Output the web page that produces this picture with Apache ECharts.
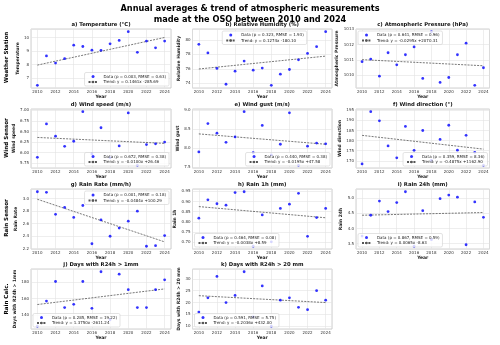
<!DOCTYPE html>
<html>
<head>
<meta charset="utf-8">
<script src="https://cdn.jsdelivr.net/npm/echarts@6/dist/echarts.min.js"></script>
<style>
html, body { margin: 0; padding: 0; background: #fff; }
#chart { width: 500px; height: 345px; }
</style>
</head>
<body>
<div id="chart"></div>
<script>
// yearly values
var years = [2010, 2011, 2012, 2013, 2014, 2015, 2016, 2017, 2018, 2019, 2020, 2021, 2022, 2023, 2024];
var temperature = [6.47, 8.65, 8.12, 8.45, 9.45, 9.35, 9.08, 9.07, 9.55, 9.80, 10.45, 8.92, 9.75, 9.25, 9.75];
var humidity = [79.4, 78.2, 76.05, 73.85, 75.67, 77.07, 75.8, 76.1, 73.7, 75.25, 75.9, 77.25, 78.14, 79.07, 81.16];
var pressure = [1010.89, 1011.06, 1009.94, 1011.47, 1010.68, 1011.34, 1011.85, 1009.79, 1012.85, 1009.53, 1009.85, 1011.34, 1012.10, 1009.34, 1010.49];
var windSpeed = [5.89, 6.68, 6.39, 6.15, 6.27, 6.97, 5.97, 6.59, 5.88, 6.16, 6.94, 5.70, 6.19, 6.21, 6.25];
var windGust = [7.90, 8.64, 8.39, 8.15, 8.29, 8.95, 7.88, 8.59, 7.82, 8.10, 8.92, 7.55, 8.05, 8.13, 8.11];
var windDir = [168.5, 194.3, 189.8, 177.4, 171.5, 187.0, 175.2, 185.0, 170.2, 180.6, 187.6, 175.3, 182.6, 174.2, 167.8];
var rainRate = [3.11, 3.10, 2.75, 2.86, 2.70, 2.89, 2.28, 2.66, 2.40, 2.53, 2.64, 2.80, 2.24, 2.25, 2.41];
var rain1h = [0.818, 0.908, 0.889, 0.882, 0.944, 0.948, 0.680, 0.834, 0.702, 0.866, 0.887, 0.940, 0.729, 0.821, 0.866];
var rain24h = [3.75, 4.44, 4.91, 4.56, 4.86, 5.22, 3.41, 4.59, 3.63, 4.99, 5.11, 5.04, 3.46, 4.88, 4.37];
var days1mm = [126, 157, 181, 149, 153, 181, 148, 193, 134, 190, 171, 149, 149, 171, 183];
var days20mm = [16, 22, 31, 20, 23, 33, 14, 27, 10, 21, 22, 18, 17, 25, 21];

// trend line values at 2010 and 2024
var trendStart = [7.97, 75.97, 1011.02, 6.36, 8.37, 182.6, 2.99, 0.875, 4.44, 152.7, 22.9];
var trendEnd = [10.02, 77.76, 1010.62, 6.22, 8.10, 175.8, 2.31, 0.820, 4.53, 171.9, 20.0];

var panelTitles = ['a) Temperature (°C)', 'b) Relative Humidity (%)', 'c) Atmospheric Pressure (hPa)',
  'd) Wind speed (m/s)', 'e) Wind gust (m/s)', 'f) Wind direction (°)',
  'g) Rain Rate (mm/h)', 'h) Rain 1h (mm)', 'i) Rain 24h (mm)',
  'j) Days with R24h > 1mm', 'k) Days with R24h > 20 mm'];
var yNames = ['Temperature', 'Relative Humidity', 'Atmospheric Pressure', 'Wind speed', 'Wind gust',
  'Wind direction', 'Rain Rate', 'Rain 1h', 'Rain 24h', 'Days with R24h > 1mm', 'Days with R24h > 20 mm'];
var dataLabels = ['Data (p = 0.003, RMSE = 0.63)', 'Data (p = 0.323, RMSE = 1.93)', 'Data (p = 0.641, RMSE = 0.96)',
  'Data (p = 0.672, RMSE = 0.38)', 'Data (p = 0.440, RMSE = 0.38)', 'Data (p = 0.359, RMSE = 8.36)',
  'Data (p = 0.001, RMSE = 0.18)', 'Data (p = 0.464, RMSE = 0.08)', 'Data (p = 0.867, RMSE = 0.59)',
  'Data (p = 0.285, RMSE = 19.22)', 'Data (p = 0.591, RMSE = 5.75)'];
var trendLabels = ['Trend: y = 0.1461x -285.69', 'Trend: y = 0.1274x -180.10', 'Trend: y = -0.0295x +2070.31',
  'Trend: y = -0.0100x +26.46', 'Trend: y = -0.0195x +47.58', 'Trend: y = -0.4875x +1162.90',
  'Trend: y = -0.0484x +100.29', 'Trend: y = -0.0038x +8.59', 'Trend: y = 0.0065x -8.63',
  'Trend: y = 1.3750x -2611.24', 'Trend: y = -0.2036x +432.00'];
var rowLabels = ['Weather Station', 'Wind Sensor', 'Rain Sensor', 'Rain Calc.'];

var series = [temperature, humidity, pressure, windSpeed, windGust, windDir, rainRate, rain1h, rain24h, days1mm, days20mm];

// layout
var FONT = 'DejaVu Sans';
var colX = [[31, 171], [192.5, 332], [356, 489.5]];
var rowY = [[29, 88], [109, 168], [189, 249], [269, 329]];
var rowLabelY = [57.5, 138, 218, 299];
var yStep = [1, 2, 1, 0.25, 0.5, 5, 0.2, 0.05, 0.5, 20, 5];
var yDigits = [0, 0, 0, 2, 1, 0, 1, 2, 1, 0, 0];
var yGap = [7.5, 9.5, 16.5, 13.5, 10, 13.5, 7.5, 13, 12.5, 11.5, 10];
var legendAt = ['lr', 'uc', 'ul', 'lr', 'lr', 'lr', 'ur', 'll', 'll', 'll', 'll'];

var W = 500, H = 345;
var option = {
  animation: false,
  backgroundColor: '#fff',
  title: {
    text: 'Annual averages & trend of atmospheric measurements\nmade at the OSO between 2010 and 2024',
    left: 'center', top: 3, padding: 0,
    textStyle: { fontFamily: FONT, fontSize: 8.2, fontWeight: 'bold', lineHeight: 11, color: '#000' }
  },
  grid: [], xAxis: [], yAxis: [], series: [], legend: [], graphic: []
};

for (var i = 0; i < series.length; i++) {
  var col = i % 3, row = Math.floor(i / 3);
  var g = { left: colX[col][0], top: rowY[row][0], width: colX[col][1] - colX[col][0], height: rowY[row][1] - rowY[row][0] };
  var vals = series[i];
  var lo = Math.min.apply(null, vals.concat([trendStart[i], trendEnd[i]]));
  var hi = Math.max.apply(null, vals.concat([trendStart[i], trendEnd[i]]));
  var m = (hi - lo) * 0.05;

  option.grid.push({
    left: g.left, top: g.top, width: g.width, height: g.height,
    show: true, borderColor: '#c4c4c4', borderWidth: 0.8, backgroundColor: '#fff'
  });
  option.xAxis.push({
    type: 'value', gridIndex: i, min: 2009.3, max: 2024.7, minInterval: 2, maxInterval: 2,
    name: 'Year', nameLocation: 'middle', nameGap: 6,
    nameTextStyle: { fontFamily: FONT, fontSize: 4.5, fontWeight: 'bold', color: '#222' },
    axisLine: { show: false }, axisTick: { show: false },
    axisLabel: { fontFamily: FONT, fontSize: 4, color: '#333', margin: 1.5, showMinLabel: false, showMaxLabel: false,
      formatter: function (v) { return String(Math.round(v)); } },
    splitLine: { show: true, lineStyle: { color: '#e2e2e2', width: 0.6 } }
  });
  option.yAxis.push({
    type: 'value', gridIndex: i, min: lo - m, max: hi + m, minInterval: yStep[i], maxInterval: yStep[i],
    name: yNames[i], nameLocation: 'middle', nameGap: yGap[i],
    nameTextStyle: { fontFamily: FONT, fontSize: 4.5, fontWeight: 'bold', color: '#222' },
    axisLine: { show: false }, axisTick: { show: false },
    axisLabel: { fontFamily: FONT, fontSize: 4, color: '#333', margin: 2, showMinLabel: false, showMaxLabel: false,
      formatter: (function (d) { return function (v) { return v.toFixed(d); }; })(yDigits[i]) },
    splitLine: { show: true, lineStyle: { color: '#e2e2e2', width: 0.6 } }
  });
  option.series.push({
    type: 'scatter', name: dataLabels[i], xAxisIndex: i, yAxisIndex: i,
    data: years.map(function (y, k) { return [y, vals[k]]; }),
    symbol: 'circle', symbolSize: 2.8, itemStyle: { color: '#0000ff' }, z: 3
  });
  option.series.push({
    type: 'line', name: trendLabels[i], xAxisIndex: i, yAxisIndex: i,
    data: [[years[0], trendStart[i]], [years[years.length - 1], trendEnd[i]]],
    symbol: 'none', itemStyle: { color: '#555' },
    lineStyle: { color: '#555', width: 0.8, type: [2, 1.2] }, z: 2
  });

  var lg = {
    orient: 'vertical', data: [{ name: dataLabels[i], icon: 'circle' }, { name: trendLabels[i] }],
    itemWidth: 9, itemHeight: 3, itemGap: 1.5, padding: [2, 3, 2, 3],
    backgroundColor: 'rgba(255,255,255,0.8)', borderColor: '#d0d0d0', borderWidth: 0.6, borderRadius: 1.5,
    textStyle: { fontFamily: FONT, fontSize: 4, color: '#222', padding: [0, 0, 0, 1] }, z: 10
  };
  var p = 2;
  if (legendAt[i] === 'lr') { lg.right = W - (g.left + g.width) + p; lg.bottom = H - (g.top + g.height) + p; }
  if (legendAt[i] === 'll') { lg.left = g.left + p; lg.bottom = H - (g.top + g.height) + p; }
  if (legendAt[i] === 'ur') { lg.right = W - (g.left + g.width) + p; lg.top = g.top + p; }
  if (legendAt[i] === 'ul') { lg.left = g.left + p; lg.top = g.top + p; }
  if (legendAt[i] === 'uc') { lg.left = g.left + g.width / 2 - 40; lg.top = g.top + p; }
  option.legend.push(lg);

  option.graphic.push({
    type: 'text', x: g.left + g.width / 2, y: g.top - 4,
    style: { text: panelTitles[i], fontFamily: FONT, fontSize: 5.3, fontWeight: 'bold', fill: '#111',
      align: 'center', verticalAlign: 'middle' }
  });
}

for (var r = 0; r < rowLabels.length; r++) {
  option.graphic.push({
    type: 'text', x: 7, y: rowLabelY[r], rotation: Math.PI / 2,
    style: { text: rowLabels[r], fontFamily: FONT, fontSize: 5.6, fontWeight: 'bold', fill: '#000',
      align: 'center', verticalAlign: 'middle' }
  });
}

var chart = echarts.init(document.getElementById('chart'), null, { renderer: 'canvas' });
chart.setOption(option);
</script>
</body>
</html>
